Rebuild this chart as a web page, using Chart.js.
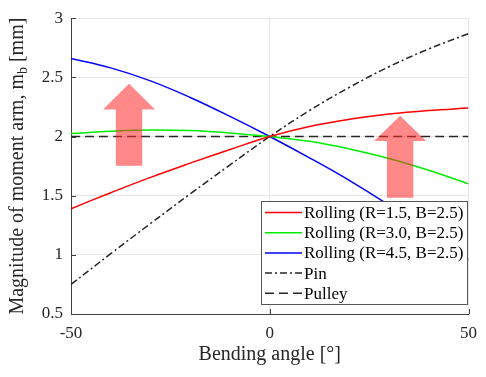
<!DOCTYPE html>
<html>
<head>
<meta charset="utf-8">
<script src="https://cdn.jsdelivr.net/npm/chart.js@4.4.1/dist/chart.umd.min.js"></script>
<style>
  html, body { margin: 0; padding: 0; background: #fff; }
  #chart { display: block; }
</style>
</head>
<body>
<canvas id="chart" width="486" height="377"></canvas>
<script>
/* ===== DATA ===== */
const angles    = [-50, -40, -30, -20, -10, 0, 10, 20, 30, 40, 50];
const rollR15   = [1.39, 1.525, 1.655, 1.775, 1.89, 2.0, 2.085, 2.145, 2.19, 2.22, 2.24];
const rollR30   = [2.025, 2.045, 2.055, 2.05, 2.03, 2.0, 1.96, 1.895, 1.815, 1.715, 1.60];
const rollR45   = [2.66, 2.58, 2.47, 2.33, 2.17, 2.0, 1.82, 1.63, 1.42, 1.195, 0.96];
const pinArm    = [0.75, 1.01, 1.265, 1.515, 1.76, 2.0, 2.22, 2.415, 2.59, 2.74, 2.87];
const pulleyArm = [2, 2, 2, 2, 2, 2, 2, 2, 2, 2, 2];
const seriesLabels = ['Rolling (R=1.5, B=2.5)', 'Rolling (R=3.0, B=2.5)', 'Rolling (R=4.5, B=2.5)', 'Pin', 'Pulley'];
const xTicks = [-50, 0, 50];
const yTicks = [0.5, 1, 1.5, 2, 2.5, 3];

// arrows: [x, tipY, headBaseY, tailY] in data units
const arrowLeft  = [-35.4, 2.446, 2.229, 1.754];
const arrowRight = [32.8, 2.175, 1.963, 1.483];

const SERIF = "'Liberation Serif', 'Times New Roman', serif";
const INK   = '#262626';
Chart.defaults.font.family = SERIF;

function pts(arr) { return angles.map((a, i) => ({ x: a, y: arr[i] })); }

function ds(label, arr, color, dash) {
  return {
    label: label, data: pts(arr), borderColor: color, backgroundColor: color,
    borderWidth: 1.5, borderDash: dash || [], pointRadius: 0,
    tension: 0.4, fill: false
  };
}

/* ===== PLUGINS ===== */
const extras = {
  id: 'extras',
  afterDatasetsDraw(chart) {
    const ctx = chart.ctx, xs = chart.scales.x, ys = chart.scales.y;
    const area = chart.chartArea;
    // inward tick marks
    ctx.save();
    ctx.strokeStyle = '#404040';
    ctx.lineWidth = 1;
    xTicks.forEach(v => {
      const px = Math.round(xs.getPixelForValue(v)) + 0.5;
      ctx.beginPath(); ctx.moveTo(px, area.bottom); ctx.lineTo(px, area.bottom - 5); ctx.stroke();
    });
    yTicks.forEach(v => {
      const py = Math.round(ys.getPixelForValue(v)) + 0.5;
      ctx.beginPath(); ctx.moveTo(area.left, py); ctx.lineTo(area.left + 5, py); ctx.stroke();
    });
    ctx.restore();

    // pink arrows
    [arrowLeft, arrowRight].forEach(a => {
      const cx = xs.getPixelForValue(a[0]);
      const tip = ys.getPixelForValue(a[1]);
      const base = ys.getPixelForValue(a[2]);
      const tail = ys.getPixelForValue(a[3]);
      const headW = 26, shaftW = 13.2;
      ctx.save();
      ctx.fillStyle = 'rgba(255, 40, 40, 0.55)';
      ctx.beginPath();
      ctx.moveTo(cx, tip);
      ctx.lineTo(cx + headW, base);
      ctx.lineTo(cx + shaftW, base);
      ctx.lineTo(cx + shaftW, tail);
      ctx.lineTo(cx - shaftW, tail);
      ctx.lineTo(cx - shaftW, base);
      ctx.lineTo(cx - headW, base);
      ctx.closePath();
      ctx.fill();
      ctx.restore();
    });
  },
  afterDraw(chart) {
    const ctx = chart.ctx, area = chart.chartArea;
    // y axis title with subscript
    ctx.save();
    ctx.translate(18, (area.top + area.bottom) / 2);
    ctx.rotate(-Math.PI / 2);
    ctx.fillStyle = INK;
    ctx.textBaseline = 'middle';
    const p1 = 'Magnitude of moment arm, m', sub = 'b', p3 = ' [mm]';
    ctx.font = '20px ' + SERIF;
    const w1 = ctx.measureText(p1).width, w3 = ctx.measureText(p3).width;
    ctx.font = '14px ' + SERIF;
    const ws = ctx.measureText(sub).width;
    let x = -(w1 + ws + w3) / 2;
    ctx.font = '20px ' + SERIF;
    ctx.fillText(p1, x, 0); x += w1;
    ctx.font = '14px ' + SERIF;
    ctx.fillText(sub, x, 5); x += ws;
    ctx.font = '20px ' + SERIF;
    ctx.fillText(p3, x, 0);
    ctx.restore();

    // legend box inside axes
    const bx = 261.5, by = 201.5, bw = 206, bh = 103;
    ctx.save();
    ctx.fillStyle = '#fff';
    ctx.fillRect(bx, by, bw, bh);
    ctx.strokeStyle = '#555';
    ctx.lineWidth = 1;
    ctx.strokeRect(bx, by, bw, bh);
    ctx.font = '17px ' + SERIF;
    ctx.textBaseline = 'middle';
    chart.data.datasets.forEach((d, i) => {
      const y = 212.5 + i * 20.2;
      ctx.strokeStyle = d.borderColor;
      ctx.lineWidth = 1.5;
      ctx.setLineDash(d.borderDash);
      ctx.beginPath(); ctx.moveTo(265, y); ctx.lineTo(302, y); ctx.stroke();
      ctx.setLineDash([]);
      ctx.fillStyle = '#000';
      ctx.fillText(d.label, 304, y + 1);
    });
    ctx.restore();
  }
};

/* ===== CHART ===== */
new Chart(document.getElementById('chart'), {
  type: 'line',
  data: {
    datasets: [
      ds(seriesLabels[0], rollR15, '#ff0000'),
      ds(seriesLabels[1], rollR30, '#00ee00'),
      ds(seriesLabels[2], rollR45, '#0000ff'),
      ds(seriesLabels[3], pinArm, INK, [7, 3, 2, 3]),
      ds(seriesLabels[4], pulleyArm, INK, [9, 5])
    ]
  },
  options: {
    responsive: false,
    devicePixelRatio: 1,
    animation: false,
    layout: { padding: { top: 7, right: 9, left: 0, bottom: 0 } },
    plugins: { legend: { display: false }, tooltip: { enabled: false } },
    scales: {
      x: {
        type: 'linear', min: -50, max: 50,
        afterBuildTicks: s => { s.ticks = xTicks.map(v => ({ value: v })); },
        afterFit: s => { s.height = 63; },
        grid: { color: '#e6e6e6', drawTicks: false },
        border: { color: '#404040', width: 1 },
        ticks: { color: INK, font: { family: SERIF, size: 17 }, padding: 9, maxRotation: 0, callback: v => String(v) },
        title: { display: true, text: 'Bending angle [°]', color: INK, font: { family: SERIF, size: 20 }, padding: { top: 2, bottom: 10 } }
      },
      y: {
        type: 'linear', min: 0.5, max: 3,
        afterBuildTicks: s => { s.ticks = yTicks.map(v => ({ value: v })); },
        afterFit: s => { s.width = 71; },
        grid: { color: '#e6e6e6', drawTicks: false },
        border: { color: '#404040', width: 1 },
        ticks: { color: INK, font: { family: SERIF, size: 17 }, padding: 8, callback: v => String(v) }
      }
    }
  },
  plugins: [extras]
});
</script>
</body>
</html>
